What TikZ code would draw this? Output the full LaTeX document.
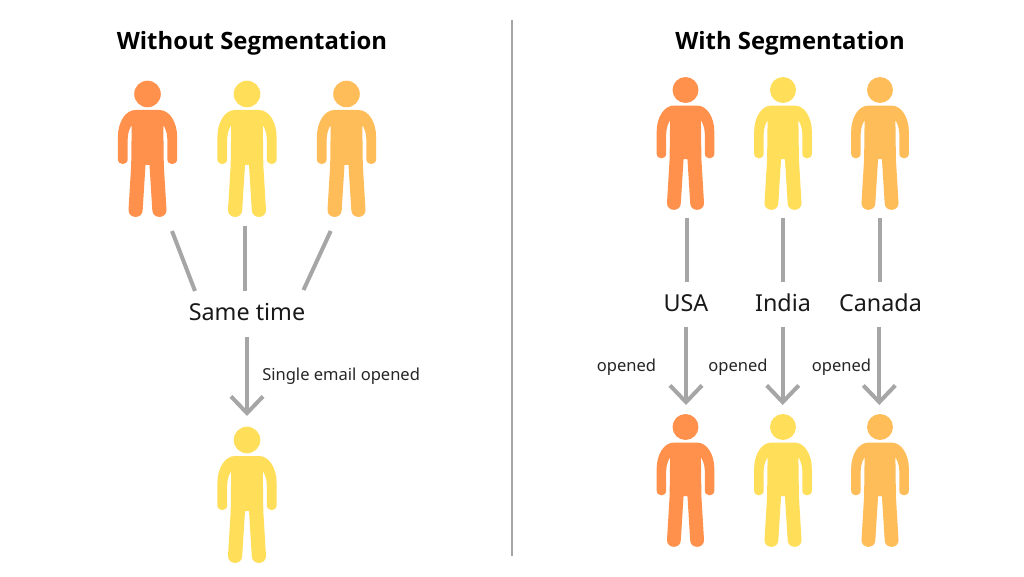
\documentclass[tikz,border=0pt]{standalone}
\usepackage{fontspec}
\setmainfont{Noto Sans}
\newfontfamily\titlefont[Scale=1]{Open Sans}
\usetikzlibrary{arrows.meta}
\definecolor{cOrange}{HTML}{FF914D}
\definecolor{cYellow}{HTML}{FFDE59}
\definecolor{cAmber}{HTML}{FFBD59}
\definecolor{cLine}{HTML}{A6A6A6}
\tikzset{
  x=0.75pt,y=-0.75pt,
  person/.pic={
    \fill (0,0) circle[radius=13.3];
    \fill (0,16) -- (-12,16) .. controls (-22,16) and (-29.6,28) .. (-29.6,43)
      -- (-29.6,65) .. controls (-29.6,71.8) and (-19.8,71.8) .. (-19.8,65)
      -- (-19.8,45) .. controls (-19.8,38) and (-17,33) .. (-15.8,31)
      -- (-16.3,71) -- (-19,116) .. controls (-19,125.2) and (-4.8,125.2) .. (-4.8,116)
      -- (-2,71) -- (2,71)
      -- (4.8,116) .. controls (4.8,125.2) and (19,125.2) .. (19,116)
      -- (16.3,71) -- (15.8,31) .. controls (17,33) and (19.8,38) .. (19.8,45)
      -- (19.8,65) .. controls (19.8,71.8) and (29.6,71.8) .. (29.6,65)
      -- (29.6,43) .. controls (29.6,28) and (22,16) .. (12,16) -- cycle;
  },
  link/.style={draw=cLine,line width=3pt},
  flow/.style={link,-{Straight Barb[length=12.5pt,width=24pt,line width=3pt]}},
  titletext/.style={font=\titlefont\bfseries\fontsize{17.9}{21}\selectfont,text=black,inner sep=0pt},
  bigtext/.style={font=\fontsize{17.5}{20}\selectfont,text=black!90,inner sep=0pt},
  smalltext/.style={font=\fontsize{12.4}{14}\selectfont,text=black!85,inner sep=0pt},
}
\begin{document}
\begin{tikzpicture}
\useasboundingbox (0,0) rectangle (1024,577);
\fill[white] (0,0) rectangle (1024,577);
% titles
\node[titletext] (t1) at (252,43) {Without Segmentation};
\node[titletext] (t2) at (790,43) {With Segmentation};
% divider
\coordinate (d1) at (512,20); \coordinate (d2) at (512,556);
\draw[draw=cLine,line width=2.2pt] (d1) -- (d2);
% left people
\pic[fill=cOrange] at (147.5,94) {person};
\pic[fill=cYellow] at (247,94) {person};
\pic[fill=cAmber] at (346.5,94) {person};
\pic[fill=cYellow] at (247,440) {person};
% right people
\foreach \cx/\col in {685.5/cOrange,783/cYellow,880/cAmber}{
  \pic[fill=\col,scale=.975] at (\cx,90) {person};
  \pic[fill=\col,scale=.975] at (\cx,427) {person};
}
% left labels
\node[bigtext] (same) at (247,312.5) {Same time};
\node[smalltext,anchor=west] (single) at (262,376.5) {Single email opened};
% left connectors
\coordinate (a1) at (172,231); \coordinate (a2) at (195,291);
\coordinate (b1) at (245.3,226); \coordinate (b2) at (245.3,291);
\coordinate (c1) at (330.7,231); \coordinate (c2) at (303.5,290);
\coordinate (e1) at (247,336.5); \coordinate (e2) at (247,416);
\draw[link] (a1) -- (a2);
\draw[link] (b1) -- (b2);
\draw[link] (c1) -- (c2);
\draw[flow] (e1) -- (e2);
% right labels
\node[bigtext] (usa) at (686,303) {USA};
\node[bigtext] (india) at (783,302.5) {India};
\node[bigtext] (canada) at (880.5,302.5) {Canada};
\node[smalltext] (o1) at (626.5,367.5) {opened};
\node[smalltext] (o2) at (738,367.5) {opened};
\node[smalltext] (o3) at (841.5,367.5) {opened};
% right connectors
\coordinate (f1) at (686.7,218); \coordinate (f2) at (686.7,282);
\coordinate (g1) at (783,218); \coordinate (g2) at (783,282);
\coordinate (h1) at (879.7,218); \coordinate (h2) at (879.7,282);
\coordinate (i1) at (686,326.5); \coordinate (i2) at (686,405);
\coordinate (j1) at (782.7,326.5); \coordinate (j2) at (782.7,405);
\coordinate (k1) at (879.3,326.5); \coordinate (k2) at (879.3,405);
\draw[link] (f1) -- (f2);
\draw[link] (g1) -- (g2);
\draw[link] (h1) -- (h2);
\draw[flow] (i1) -- (i2);
\draw[flow] (j1) -- (j2);
\draw[flow] (k1) -- (k2);
\end{tikzpicture}
\end{document}
